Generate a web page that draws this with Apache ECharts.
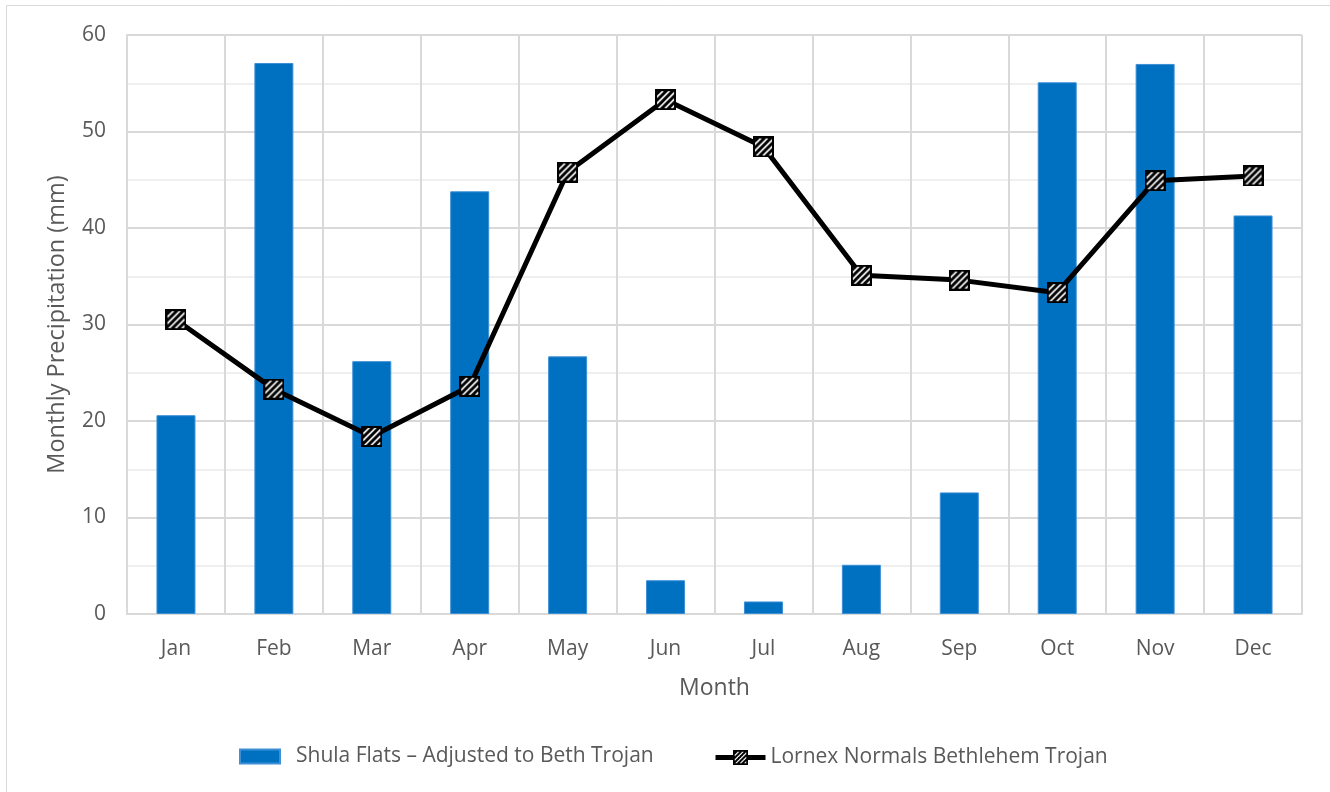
<!DOCTYPE html>
<html><head><meta charset="utf-8">
<script src="https://cdn.jsdelivr.net/npm/echarts@6/dist/echarts.min.js"></script>
<style>html,body{margin:0;padding:0;background:#fff}#c{width:1330px;height:792px}</style>
</head><body><div id="c"></div>
<script>
const months = ['Jan','Feb','Mar','Apr','May','Jun','Jul','Aug','Sep','Oct','Nov','Dec'];
const shulaFlats = [20.6, 57.1, 26.2, 43.8, 26.7, 3.5, 1.3, 5.1, 12.6, 55.1, 57.0, 41.3];
const lornexNormals = [30.5, 23.3, 18.4, 23.6, 45.8, 53.3, 48.4, 35.1, 34.6, 33.3, 44.9, 45.4];
const yTicks = [0, 10, 20, 30, 40, 50, 60];

function hatchImage(size) {
  const cv = document.createElement('canvas');
  cv.width = size; cv.height = size;
  const ctx = cv.getContext('2d');
  ctx.fillStyle = '#fff'; ctx.fillRect(0,0,size,size);
  ctx.save();
  ctx.beginPath(); ctx.rect(0,0,size,size); ctx.clip();
  ctx.strokeStyle = '#000'; ctx.lineWidth = 3;
  for (let k = -size; k < 2*size; k += 6.5) {
    ctx.beginPath(); ctx.moveTo(k, size); ctx.lineTo(k + size, 0); ctx.stroke();
  }
  ctx.restore();
  ctx.strokeStyle = '#000'; ctx.lineWidth = 2;
  ctx.strokeRect(1,1,size-2,size-2);
  return cv.toDataURL();
}
const marker = 'image://' + hatchImage(21);

const font = '"Open Sans", "Noto Sans", sans-serif';
const barName = 'Shula Flats – Adjusted to Beth Trojan';
const lineName = 'Lornex Normals Bethlehem Trojan';
const chart = echarts.init(document.getElementById('c'));
chart.setOption({
  animation: false,
  textStyle: { fontFamily: font },
  graphic: [{ type: 'rect', shape: { x: 6.5, y: 5.5, width: 1340, height: 800 }, style: { fill: 'none', stroke: '#d9d9d9', lineWidth: 1 }, silent: true }],
  grid: { left: 127, right: 28, top: 35, bottom: 178, containLabel: false },
  legend: [
    {
      top: 741, left: 234, itemWidth: 40, itemHeight: 14,
      textStyle: { color: '#595959', fontSize: 21, fontFamily: font, padding: [0, 0, 0, 11] },
      data: [{ name: barName, icon: 'rect' }]
    },
    {
      top: 742, left: 708, itemWidth: 50, itemHeight: 18,
      lineStyle: { width: 5, color: '#000' },
      textStyle: { color: '#595959', fontSize: 21, fontFamily: font, padding: [0, 0, 0, 0] },
      data: [{ name: lineName }]
    }
  ],
  xAxis: {
    type: 'category', data: months,
    name: 'Month', nameLocation: 'middle', nameGap: 63,
    nameTextStyle: { color: '#595959', fontSize: 23, fontFamily: font },
    axisLine: { lineStyle: { color: '#d9d9d9', width: 2 } },
    axisTick: { show: false },
    axisLabel: { color: '#595959', fontSize: 21, margin: 25, fontFamily: font },
    splitLine: { show: true, lineStyle: { color: '#d9d9d9', width: 2 } }
  },
  yAxis: {
    type: 'value', min: 0, max: 60, interval: 10,
    name: 'Monthly Precipitation (mm)', nameLocation: 'middle', nameGap: 58,
    nameTextStyle: { color: '#595959', fontSize: 23.5, fontFamily: font },
    axisLine: { show: true, lineStyle: { color: '#d9d9d9', width: 2 } },
    axisTick: { show: false },
    axisLabel: { color: '#595959', fontSize: 21, margin: 21, fontFamily: font,
      formatter: v => yTicks.includes(v) ? String(v) : '' },
    splitLine: { lineStyle: { color: '#d9d9d9', width: 2 } },
    minorTick: { show: false, splitNumber: 2 },
    minorSplitLine: { show: true, lineStyle: { color: '#efefef', width: 2 } }
  },
  series: [
    {
      name: barName, type: 'bar', data: shulaFlats,
      barWidth: 39,
      itemStyle: { color: '#0070c0', borderColor: '#3d8fd6', borderWidth: 1 }
    },
    {
      name: lineName, type: 'line', data: lornexNormals,
      symbol: marker, symbolSize: 21, showAllSymbol: true,
      lineStyle: { color: '#000', width: 5 },
      itemStyle: { color: '#000' }
    }
  ]
});
</script></body></html>
